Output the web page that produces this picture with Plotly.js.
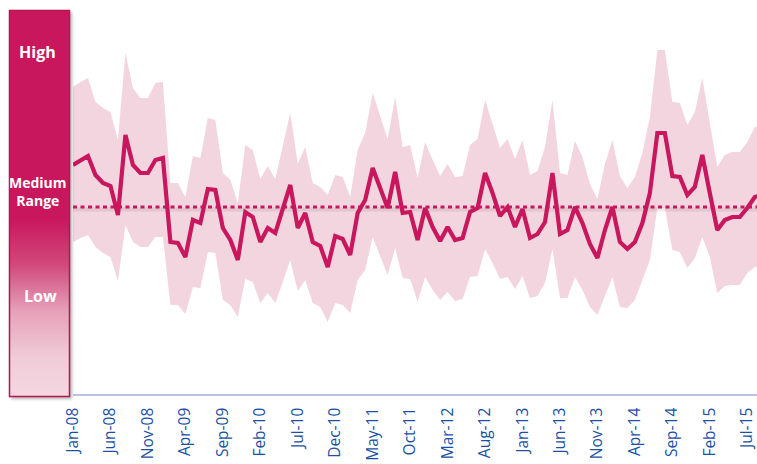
<!DOCTYPE html>
<html>
<head>
<meta charset="utf-8">
<script src="https://cdn.plot.ly/plotly-3.0.1.min.js"></script>
<style>
  html, body { margin: 0; padding: 0; background: #ffffff; }
  #chart { width: 757px; height: 464px; }
</style>
</head>
<body>
<div id="chart"></div>
<script>
// ---- data (monthly, Jan-08 onward) ----
const monthNames = ['Jan','Feb','Mar','Apr','May','Jun','Jul','Aug','Sep','Oct','Nov','Dec'];
const startYear = 2008;

const indexValue = [229,233,238,219,211,208,179,259,229,221,
                    221,234,236,152,151,137,174,171,205,204,
                    166,154,134,182,177,152,166,161,185,209,
                    166,181,152,148,127,158,155,139,181,194,
                    226,206,186,222,181,182,154,186,167,153,
                    167,154,156,182,186,221,201,178,187,167,
                    185,156,160,172,221,160,164,187,171,150,
                    136,164,187,152,145,152,171,201,261,261,
                    218,217,199,207,239,201,164,174,177,177,
                    186,197,199];

const rangeHigh = [307,312,316,292,286,282,254,341,306,296,
                   296,311,312,211,211,197,238,236,276,274,
                   221,214,191,249,244,215,228,215,248,281,
                   230,247,211,207,199,219,217,197,244,261,
                   301,277,255,297,247,249,216,252,234,218,
                   230,217,218,249,255,294,271,246,255,235,
                   254,219,223,247,294,221,219,253,237,210,
                   195,230,254,218,206,217,241,277,344,344,
                   292,291,269,282,316,271,227,239,242,242,
                   252,267,269];

const rangeLow = [152,156,159,147,141,137,113,169,152,147,
                  147,157,157,89,89,80,107,106,142,141,
                  94,89,77,115,112,91,101,91,112,134,
                  103,114,91,87,72,91,89,81,114,124,
                  157,138,119,146,116,115,92,117,104,94,
                  102,93,95,117,118,145,131,115,117,105,
                  118,96,98,111,145,96,96,117,104,87,
                  79,98,117,87,86,94,115,134,186,186,
                  144,142,126,136,157,137,101,108,109,109,
                  121,127,129];

const medianValue = 187;

const tickLabels = ['Jan-08','Jun-08','Nov-08','Apr-09','Sep-09','Feb-10','Jul-10','Dec-10',
                    'May-11','Oct-11','Mar-12','Aug-12','Jan-13','Jun-13','Nov-13','Apr-14',
                    'Sep-14','Feb-15','Jul-15'];

const bandLabels = ['High', 'Medium<br>Range', 'Low'];

// month category labels
const months = [];
for (let i = 0; i < indexValue.length; i++) {
  const m = i % 12, y = startYear + Math.floor(i / 12);
  months.push(monthNames[m] + '-' + String(y % 100).padStart(2, '0'));
}

const MAG = '#C8175D';
const BAND = '#F2D5DF';

const traces = [
  { x: months, y: rangeLow, type: 'scatter', mode: 'lines',
    line: { width: 0, color: BAND }, hoverinfo: 'skip', showlegend: false },
  { x: months, y: rangeHigh, type: 'scatter', mode: 'lines', fill: 'tonexty',
    fillcolor: BAND, line: { width: 0, color: BAND }, hoverinfo: 'skip', showlegend: false },
  // soft shadow under the dotted median line
  { x: [months[0], months[months.length - 1]], y: [medianValue - 2.5, medianValue - 2.5],
    type: 'scatter', mode: 'lines', line: { width: 4, color: 'rgba(120,90,100,0.13)' },
    hoverinfo: 'skip', showlegend: false },
  { x: [months[0], months[months.length - 1]], y: [medianValue, medianValue],
    type: 'scatter', mode: 'lines', line: { width: 3, color: '#C41A5C', dash: '4px,3.5px' },
    hoverinfo: 'skip', showlegend: false },
  { x: months, y: indexValue, type: 'scatter', mode: 'lines',
    line: { width: 4.2, color: MAG, shape: 'linear' }, showlegend: false }
];

// side panel as an SVG image (gradient + border + shadow)
const svg =
  '<svg xmlns="http://www.w3.org/2000/svg" width="80" height="410" viewBox="0 0 80 410">' +
  '<defs><linearGradient id="g" x1="0" y1="0" x2="0" y2="1">' +
  '<stop offset="0" stop-color="#C8175D"/>' +
  '<stop offset="0.54" stop-color="#C8175D"/>' +
  '<stop offset="0.66" stop-color="#D24A7C"/>' +
  '<stop offset="0.78" stop-color="#E6A1B9"/>' +
  '<stop offset="0.90" stop-color="#F0CCD8"/>' +
  '<stop offset="1" stop-color="#F3D7E1"/>' +
  '</linearGradient>' +
  '<filter id="s" x="-20%" y="-20%" width="150%" height="150%">' +
  '<feGaussianBlur stdDeviation="1.6"/></filter></defs>' +
  '<rect x="11" y="12" width="61" height="387" fill="rgba(90,90,90,0.45)" filter="url(#s)"/>' +
  '<rect x="9.5" y="10.5" width="60" height="386" fill="url(#g)" stroke="#B8154F" stroke-width="1.5"/>' +
  '</svg>';
const svgUri = 'data:image/svg+xml;charset=utf-8,' + encodeURIComponent(svg);

const L = 73, T = 10, W = 684, H = 384;
const px = v => (v - L) / W;
const py = v => (T + H - v) / H;

const annoBase = { xref: 'paper', yref: 'paper', showarrow: false,
                   xanchor: 'center', yanchor: 'middle' };

const layout = {
  width: 757, height: 464,
  margin: { l: L, r: 0, t: T, b: 70, pad: 0 },
  paper_bgcolor: '#ffffff', plot_bgcolor: '#ffffff',
  showlegend: false,
  xaxis: {
    type: 'category',
    range: [0, 91.3],
    showgrid: false, zeroline: false,
    showline: true, linecolor: '#B9C4DE', linewidth: 1.5,
    tickmode: 'array', tickvals: tickLabels, ticktext: tickLabels,
    tickangle: -90, ticks: '', ticklabelstandoff: 6,
    tickfont: { family: 'Open Sans, sans-serif', size: 15.5, color: '#1B51A3' }
  },
  yaxis: {
    range: [0, 384], showgrid: false, zeroline: false, showline: false,
    showticklabels: false, ticks: ''
  },
  images: [{
    source: svgUri, xref: 'paper', yref: 'paper',
    x: px(0), y: py(0), sizex: 80 / W, sizey: 410 / H,
    xanchor: 'left', yanchor: 'top', sizing: 'stretch', layer: 'above'
  }],
  annotations: [
    Object.assign({}, annoBase, { text: '<b>' + bandLabels[0] + '</b>', x: px(37), y: py(52),
      font: { family: 'Open Sans, sans-serif', size: 16, color: '#ffffff' } }),
    Object.assign({}, annoBase, { text: '<b>' + bandLabels[1] + '</b>', x: px(38), y: py(191),
      font: { family: 'Open Sans, sans-serif', size: 14, color: '#ffffff' } }),
    Object.assign({}, annoBase, { text: '<b>' + bandLabels[2] + '</b>', x: px(40), y: py(296),
      font: { family: 'Open Sans, sans-serif', size: 16, color: '#ffffff' } })
  ]
};

Plotly.newPlot('chart', traces, layout, { displayModeBar: false, staticPlot: true });
</script>
</body>
</html>
